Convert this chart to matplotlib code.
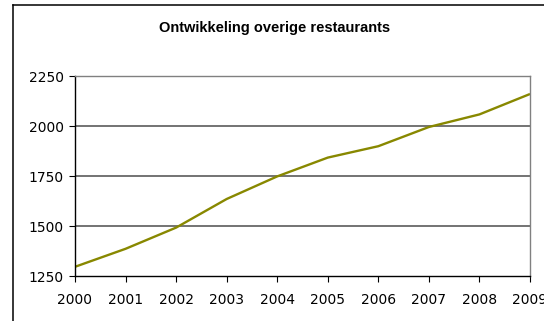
import matplotlib
matplotlib.use("Agg")
import matplotlib.pyplot as plt
from matplotlib.lines import Line2D

# Yearly counts of "overige restaurants"
years = [2000, 2001, 2002, 2003, 2004, 2005, 2006, 2007, 2008, 2009]
counts = [1296, 1386, 1492, 1635, 1748, 1842, 1899, 1995, 2058, 2160]
y_ticks = [1250, 1500, 1750, 2000, 2250]

W, H = 544, 321
fig = plt.figure(figsize=(W / 100, H / 100), dpi=100)
fig.patch.set_facecolor("white")

# outer chart frame (left and top edges only are visible)
fig.add_artist(Line2D([13 / W, 13 / W], [0, 1 - 5 / H], transform=fig.transFigure,
                      color="black", lw=1.1))
fig.add_artist(Line2D([13 / W, 1], [1 - 5 / H, 1 - 5 / H], transform=fig.transFigure,
                      color="black", lw=1.1))

left, right, top, bottom = 75, 530, 76, 276
ax = fig.add_axes([left / W, (H - bottom) / H, (right - left) / W, (bottom - top) / H])

ax.plot(years, counts, color="#888800", lw=1.7, solid_capstyle="butt")

ax.set_xlim(2000, 2009)
ax.set_ylim(1250, 2250)
ax.set_xticks(years)
ax.set_yticks(y_ticks)

for y in y_ticks[1:-1]:
    ax.axhline(y, color="#4d4d4d", lw=1.1, zorder=0)

ax.spines["left"].set_color("black")
ax.spines["bottom"].set_color("black")
ax.spines["top"].set_color("#808080")
ax.spines["right"].set_color("#808080")
for s in ax.spines.values():
    s.set_linewidth(1.0)

ax.tick_params(axis="both", direction="out", length=4, width=0.8, color="black",
               labelsize=10, pad=4)
ax.tick_params(axis="x", pad=8)

fig.text(275 / W, 1 - 28 / H, "Ontwikkeling overige restaurants",
         ha="center", va="center", fontsize=10.5, fontweight="bold",
         family="Liberation Sans")

fig.savefig("out.png", dpi=100)
